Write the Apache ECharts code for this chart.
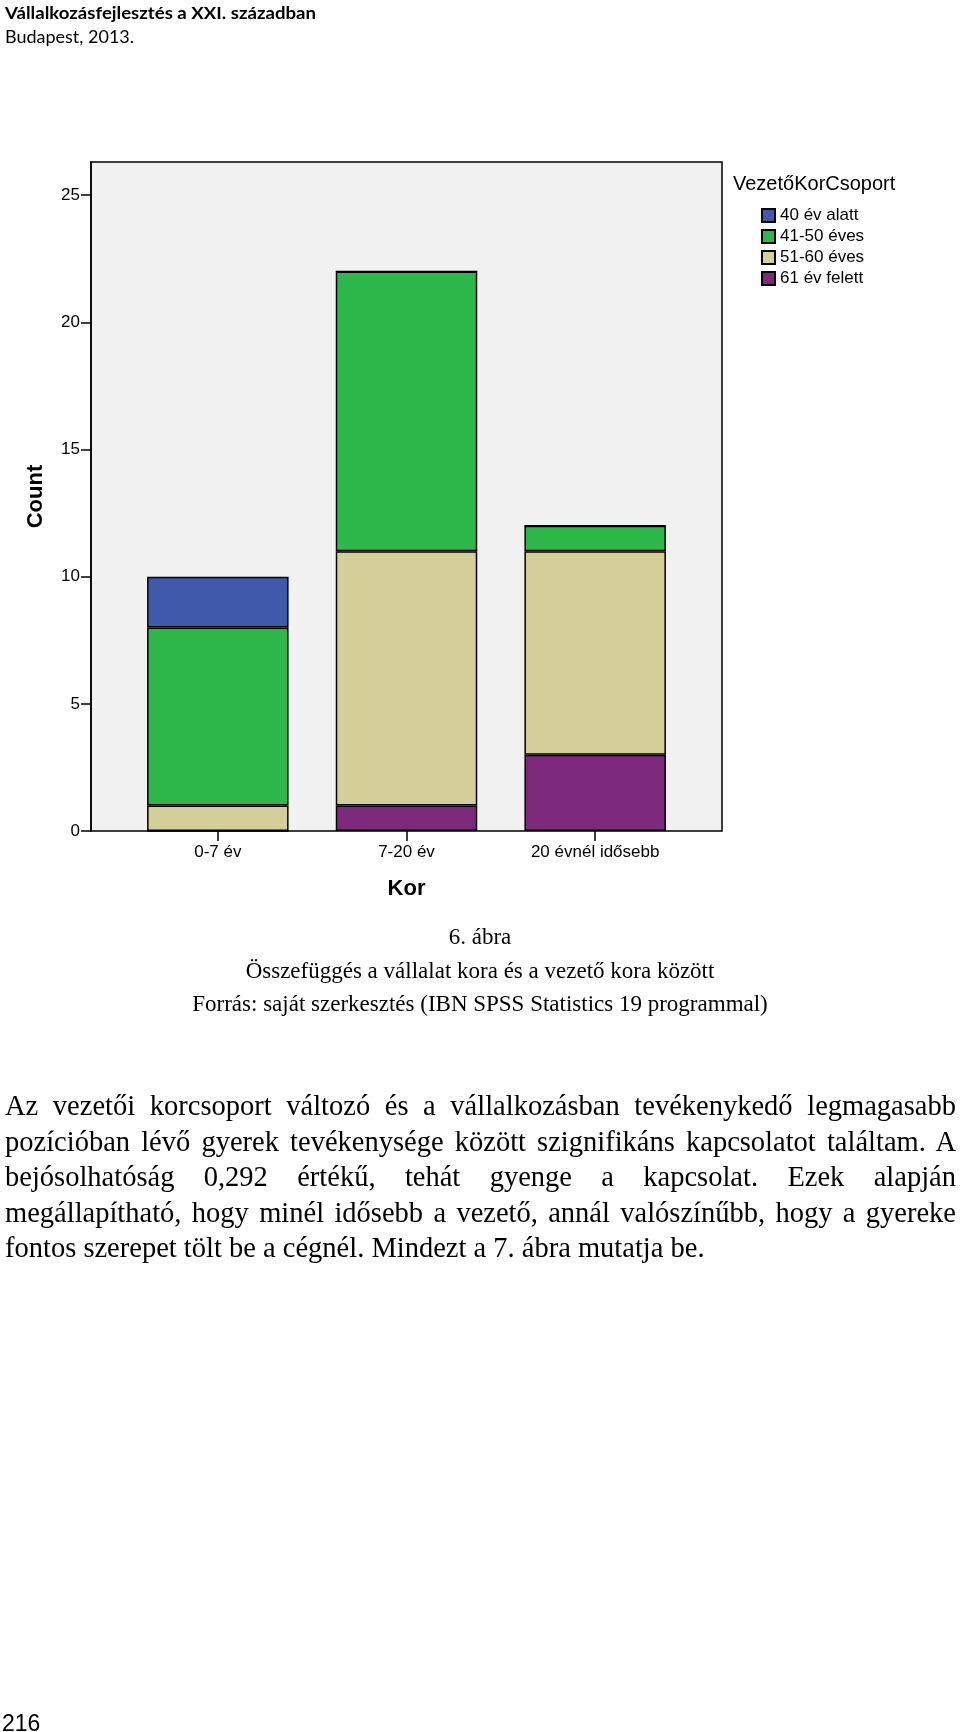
<!DOCTYPE html>
<html>
<head>
<meta charset="utf-8">
<script src="https://cdn.jsdelivr.net/npm/echarts@6/dist/echarts.min.js"></script>
<style>
  html, body { margin: 0; padding: 0; background: #fff; }
  #page { position: relative; width: 960px; height: 1732px; overflow: hidden; background: #fff; }
  #chart { position: absolute; left: 0; top: 0; width: 960px; height: 1732px; }
  .t { position: absolute; white-space: nowrap; color: #000; line-height: 1; }
  .hdr { font-family: Lato, "Open Sans", sans-serif; font-size: 17px; left: 5px; transform-origin: left center; }
  .cap { font-family: "Liberation Serif", "Times New Roman", serif; font-size: 23px; left: 0; width: 960px; text-align: center; }
  .par { font-family: "Liberation Serif", "Times New Roman", serif; font-size: 28.5px; left: 5px; width: 951px; text-align: justify; text-align-last: justify; }
  .par.last { text-align: left; text-align-last: left; }
  .pn { font-family: "Liberation Sans", Arial, sans-serif; font-size: 23px; left: 2px; }
</style>
</head>
<body>
<div id="page">
  <div id="chart"></div>
  <div class="t hdr fit" data-w="311" style="top:4px;font-weight:bold;">Vállalkozásfejlesztés a XXI. században</div>
  <div class="t hdr fit" data-w="129" style="top:28px;">Budapest, 2013.</div>

  <div class="t cap" style="top:925px;">6. ábra</div>
  <div class="t cap" style="top:959px;">Összefüggés a vállalat kora és a vezető kora között</div>
  <div class="t cap" style="top:992px;">Forrás: saját szerkesztés (IBN SPSS Statistics 19 programmal)</div>

  <div class="t par" style="top:1092px;">Az vezetői korcsoport változó és a vállalkozásban tevékenykedő legmagasabb</div>
  <div class="t par" style="top:1127.5px;">pozícióban lévő gyerek tevékenysége között szignifikáns kapcsolatot találtam. A</div>
  <div class="t par" style="top:1163px;">bejósolhatóság 0,292 értékű, tehát gyenge a kapcsolat. Ezek alapján</div>
  <div class="t par" style="top:1198.5px;">megállapítható, hogy minél idősebb a vezető, annál valószínűbb, hogy a gyereke</div>
  <div class="t par last" style="top:1234px;">fontos szerepet tölt be a cégnél. Mindezt a 7. ábra mutatja be.</div>

  <div class="t pn" style="top:1712px;">216</div>
</div>
<script>
// ---- data ----
const categories = ['0-7 év', '7-20 év', '20 évnél idősebb'];
const legendNames = ['40 év alatt', '41-50 éves', '51-60 éves', '61 év felett'];
const under40 = [2, 0, 0];
const age41to50 = [7, 11, 1];
const age51to60 = [1, 10, 8];
const over61 = [0, 1, 3];
const yTickValues = [0, 5, 10, 15, 20, 25];

// ---- styles ----
const colors = {
  '40 év alatt': '#3F5AAA',
  '41-50 éves': '#2EB84A',
  '51-60 éves': '#D4CF98',
  '61 év felett': '#7D2A7C'
};
// stacking order: bottom to top
const stackSeries = [
  ['61 év felett', over61],
  ['51-60 éves', age51to60],
  ['41-50 éves', age41to50],
  ['40 év alatt', under40]
];

const font = '"Liberation Sans", Arial, sans-serif';
const chart = echarts.init(document.getElementById('chart'), null, { renderer: 'canvas' });
const axisLineStyle = { color: '#000', width: 1.5 };
const Y_MAX = 26.3;

chart.setOption({
  animation: false,
  backgroundColor: 'transparent',
  textStyle: { fontFamily: font, color: '#000' },
  title: {
    text: 'VezetőKorCsoport',
    left: 733, top: 174, padding: 0,
    textStyle: { fontSize: 20, fontWeight: 'normal', color: '#000', fontFamily: font }
  },
  legend: {
    data: legendNames,
    orient: 'vertical',
    left: 761, top: 207, padding: 0,
    itemWidth: 13, itemHeight: 13, itemGap: 4,
    icon: 'rect',
    selectedMode: false,
    textStyle: { fontSize: 17, color: '#000', fontFamily: font }
  },
  grid: [
    { // frame with background
      left: 91, right: 238, top: 162, bottom: 901,
      show: true, backgroundColor: '#F1F1F1', borderColor: '#000', borderWidth: 1.5
    },
    { // inner band area for the categories
      left: 123.5, right: 270.5, top: 162, bottom: 901
    }
  ],
  xAxis: [
    { gridIndex: 0, type: 'value', min: 0, max: 1, show: false },
    {
      gridIndex: 1,
      type: 'category',
      data: categories,
      boundaryGap: true,
      axisLine: { show: false },
      axisTick: { show: true, alignWithLabel: true, length: 10, lineStyle: axisLineStyle },
      axisLabel: { fontSize: 17, color: '#000', margin: 13, fontFamily: font, interval: 0 },
      splitLine: { show: false },
      name: 'Kor', nameLocation: 'middle', nameGap: 47,
      nameTextStyle: { fontSize: 22, fontWeight: 'bold', color: '#000', fontFamily: font }
    }
  ],
  yAxis: [
    {
      gridIndex: 0,
      type: 'value',
      min: 0, max: Y_MAX,
      axisLine: { show: true, onZero: false, lineStyle: axisLineStyle },
      axisTick: { show: true, customValues: yTickValues, length: 10, lineStyle: axisLineStyle },
      axisLabel: { customValues: yTickValues, fontSize: 17, color: '#000', margin: 11, fontFamily: font },
      splitLine: { show: false },
      name: 'Count', nameLocation: 'middle', nameRotate: 90, nameGap: 44,
      nameTextStyle: { fontSize: 22, fontWeight: 'bold', color: '#000', fontFamily: font }
    },
    { gridIndex: 1, type: 'value', min: 0, max: Y_MAX, show: false }
  ],
  series: stackSeries.map(([name, vals]) => ({
    type: 'bar',
    name: name,
    xAxisIndex: 1,
    yAxisIndex: 1,
    stack: 'total',
    barWidth: '75%',
    data: vals,
    itemStyle: { color: colors[name], borderColor: '#000', borderWidth: 1.5 }
  }))
});

// fit some text widths to the reference
document.querySelectorAll('.fit').forEach(el => {
  const w = parseFloat(el.dataset.w);
  const r = el.getBoundingClientRect().width;
  if (r > 0) el.style.transform = 'scaleX(' + (w / r) + ')';
});
</script>
</body>
</html>
